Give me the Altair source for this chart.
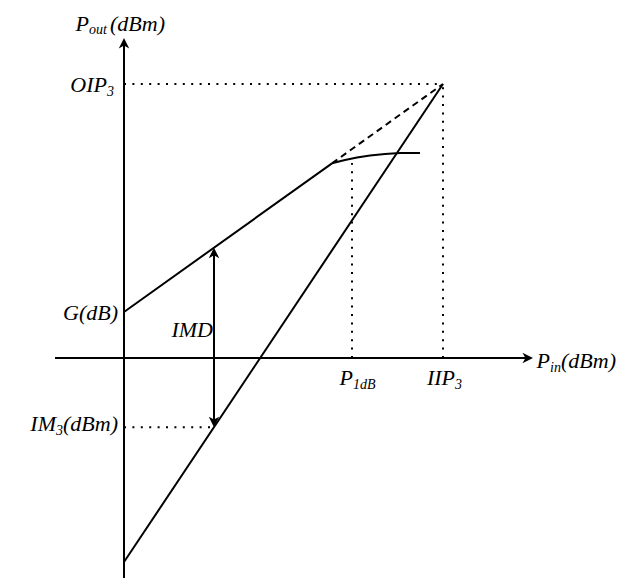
import altair as alt
import pandas as pd

# ---- diagram values (1 unit = 10 px) ----
G = 4.6            # small-signal gain intercept
IIP3 = 31.9        # input third-order intercept
OIP3 = 27.4        # output third-order intercept
P1DB = 22.8        # 1 dB compression input
IM3_AT_ZERO = -20.4  # IM3 line at Pin = 0
IMD_X = 9.0        # where IMD is measured
KINK_X = 20.8      # end of linear region

X_AXIS = [-6.9, 40.9]
Y_AXIS = [-22.0, 32.0]

comp_x = [20.8, 22.1, 23.3, 24.6, 26.1, 27.6, 29.6]
comp_y = [19.47, 19.8, 20.05, 20.25, 20.4, 20.5, 20.5]

gain_slope = (OIP3 - G) / IIP3
im3_slope = (OIP3 - IM3_AT_ZERO) / IIP3
def gain(x):
    return G + gain_slope * x
def im3(x):
    return IM3_AT_ZERO + im3_slope * x

P1DB_TOP = 19.5
HEAD = 0.5

def seg_rows(name, xs, ys):
    return [{"seg": name, "o": i, "x": a, "y": b} for i, (a, b) in enumerate(zip(xs, ys))]

solid = pd.DataFrame(
    seg_rows("xaxis", [X_AXIS[0], X_AXIS[1] - HEAD], [0, 0])
    + seg_rows("yaxis", [0, 0], [Y_AXIS[0], Y_AXIS[1] - HEAD])
    + seg_rows("gain", [0, KINK_X], [G, gain(KINK_X)])
    + seg_rows("comp", comp_x, comp_y)
    + seg_rows("im3", [0, IIP3], [IM3_AT_ZERO, OIP3])
    + seg_rows("imd", [IMD_X, IMD_X], [gain(IMD_X) - HEAD, im3(IMD_X) + HEAD])
)
dashed = pd.DataFrame(seg_rows("ext", [KINK_X, IIP3], [gain(KINK_X), OIP3]))
dotted = pd.DataFrame(
    seg_rows("oip3", [0, IIP3], [OIP3, OIP3])
    + seg_rows("iip3", [IIP3, IIP3], [0, OIP3])
    + seg_rows("p1db", [P1DB, P1DB], [0, P1DB_TOP])
    + seg_rows("im3h", [0, IMD_X], [im3(IMD_X), im3(IMD_X)])
)

heads = pd.DataFrame({
    "x": [X_AXIS[1], 0, IMD_X, IMD_X],
    "y": [0, Y_AXIS[1], gain(IMD_X), im3(IMD_X)],
    "angle": [90, 0, 0, 180],
})

# label pieces: text, x, y(baseline), size, align
lab_text = ["P", "out", "(dBm)", "OIP", "3", "G(dB)", "IMD", "IM", "3", "(dBm)",
            "P", "1dB", "IIP", "3", "P", "in", "(dBm)"]
lab_x = [-3.5, -3.5, -1.4, -1.7, -1.7, -0.6, 8.9, -6.8, -6.8, -6.1,
         22.9, 22.9, 33.1, 33.1, 42.6, 42.6, 43.7]
lab_y = [32.73, 32.4, 32.73, 26.6, 26.2, 3.8, 2.1, -7.3, -7.7, -7.3,
         -2.7, -3.1, -2.7, -3.1, -1.0, -1.4, -1.0]
lab_size = [22, 14, 22, 22, 14, 22, 22, 22, 14, 22, 22, 14, 22, 14, 22, 14, 22]
lab_align = ["right", "left", "left", "right", "left", "right", "right", "right", "left", "left",
             "right", "left", "right", "left", "right", "left", "left"]
labels = pd.DataFrame({"t": lab_text, "x": lab_x, "y": lab_y, "s": lab_size, "a": lab_align})

sx = alt.Scale(domain=[-11.6, 51.1], nice=False, zero=False)
sy = alt.Scale(domain=[-22.0, 35.0], nice=False, zero=False)
X = lambda: alt.X("x:Q", scale=sx, axis=None)
Y = lambda: alt.Y("y:Q", scale=sy, axis=None)

solid_l = alt.Chart(solid).mark_line(color="black", strokeWidth=2).encode(
    x=X(), y=Y(), detail="seg:N", order="o:Q")
dashed_l = alt.Chart(dashed).mark_line(color="black", strokeWidth=2, strokeDash=[6.5, 4.5]).encode(
    x=X(), y=Y(), detail="seg:N", order="o:Q")
dotted_l = alt.Chart(dotted).mark_line(color="black", strokeWidth=2, strokeDash=[2, 6.4]).encode(
    x=X(), y=Y(), detail="seg:N", order="o:Q")

arrow_path = "M0,0 L1,2 L0,1.45 L-1,2 Z"
heads_l = alt.Chart(heads).mark_point(shape=arrow_path, filled=True, size=110, color="black",
                                      opacity=1, strokeWidth=0).encode(
    x=X(), y=Y(), angle=alt.Angle("angle:Q", scale=None))

text_r = alt.Chart(labels).transform_filter(alt.datum.a == "right").mark_text(
    align="right", baseline="alphabetic", font="Liberation Serif", fontStyle="italic", color="black"
).encode(x=X(), y=Y(), text="t:N", size=alt.Size("s:Q", scale=None))
text_l = alt.Chart(labels).transform_filter(alt.datum.a == "left").mark_text(
    align="left", baseline="alphabetic", font="Liberation Serif", fontStyle="italic", color="black"
).encode(x=X(), y=Y(), text="t:N", size=alt.Size("s:Q", scale=None))

chart = alt.layer(dotted_l, dashed_l, solid_l, heads_l, text_r, text_l).properties(
    width=627, height=570, autosize=alt.AutoSizeParams(type="none"), padding=0,
    background="white"
).configure_view(strokeWidth=0)

chart.save("out.html", embed_options={"renderer": "svg", "actions": False})
